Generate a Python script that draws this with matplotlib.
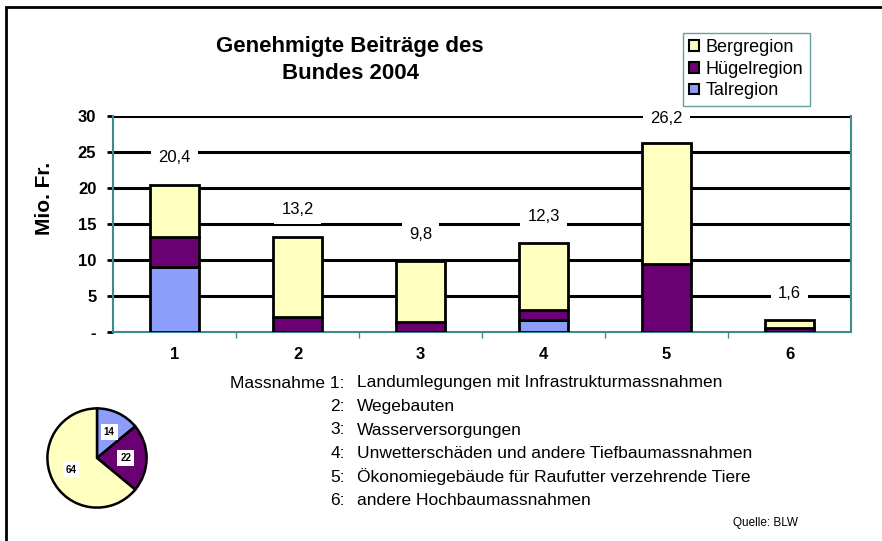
import numpy as np
import matplotlib
matplotlib.use("Agg")
import matplotlib.pyplot as plt
from matplotlib.patches import Rectangle, Patch

plt.rcParams["font.family"] = ["Liberation Sans", "DejaVu Sans"]

# data (Mio. Fr.)
massnahmen = ["1", "2", "3", "4", "5", "6"]
tal = [9.0, 0.0, 0.0, 1.6, 0.0, 0.0]
huegel = [4.2, 2.1, 1.4, 1.5, 9.5, 0.6]
berg = [7.2, 11.1, 8.4, 9.2, 16.7, 1.0]
totals = ["20,4", "13,2", "9,8", "12,3", "26,2", "1,6"]
pie_vals = [14, 22, 64]  # Tal, Huegel, Berg in %
beschreibung = ["Landumlegungen mit Infrastrukturmassnahmen", "Wegebauten",
                "Wasserversorgungen", "Unwetterschäden und andere Tiefbaumassnahmen",
                "Ökonomiegebäude für Raufutter verzehrende Tiere",
                "andere Hochbaumassnahmen"]

C_TAL, C_HUE, C_BERG = "#8C9EFA", "#6A0072", "#FFFFC0"
TEAL = "#3E8A8C"
W, H = 882, 541

fig = plt.figure(figsize=(W / 100, H / 100), dpi=100)
fig.patches.append(Rectangle((6 / W, -0.1), 1.2, (H - 7) / H + 0.1, transform=fig.transFigure,
                             fill=False, ec="black", lw=2))

ax = fig.add_axes([113 / W, (H - 332) / H, (851 - 113) / W, (332 - 116) / H])
x = np.arange(len(massnahmen))
tal_a, hue_a, berg_a = map(np.array, (tal, huegel, berg))
ax.bar(x, tal_a, 0.4, color=C_TAL, ec="black", lw=2, zorder=3)
ax.bar(x, hue_a, 0.4, bottom=tal_a, color=C_HUE, ec="black", lw=2, zorder=3)
ax.bar(x, berg_a, 0.4, bottom=tal_a + hue_a, color=C_BERG, ec="black", lw=2, zorder=3)
tops = tal_a + hue_a + berg_a
for xi, t, lab in zip(x, tops, totals):
    ax.text(xi, min(t + 3.8, 29.7), lab, ha="center", va="center", fontsize=12, zorder=4,
            bbox=dict(fc="white", ec="none", pad=5))

ax.set_xlim(-0.5, 5.5)
ax.set_ylim(0, 30)
ax.set_yticks([0, 5, 10, 15, 20, 25, 30])
ax.set_yticklabels(["-", "5", "10", "15", "20", "25", "30"], fontweight="bold", fontsize=12)
for y in range(5, 31, 5):
    ax.axhline(y, color="black", lw=2.2, zorder=1)
ax.tick_params(axis="y", length=4, width=2, color="black", pad=8)
ax.set_xticks(x)
ax.set_xticklabels(massnahmen, fontweight="bold", fontsize=12)
ax.set_xticks(np.arange(0.5, 5.5, 1), minor=True)
ax.tick_params(axis="x", which="major", length=0, pad=11)
ax.tick_params(axis="x", which="minor", length=4, width=1, color=TEAL)
for s in ["left", "right", "bottom"]:
    ax.spines[s].set_color(TEAL)
    ax.spines[s].set_linewidth(1.5)
ax.spines["top"].set_visible(False)
fig.text(45 / W, 1 - 198 / H, "Mio. Fr.", rotation=90, ha="center", va="center",
         fontsize=15, fontweight="bold")

fig.text(350 / W, 1 - 60 / H, "Genehmigte Beiträge des\nBundes 2004", ha="center", va="center",
         fontsize=16, fontweight="bold", linespacing=1.4)

handles = [Patch(fc=C_BERG, ec="black", lw=1.5, label="Bergregion"),
           Patch(fc=C_HUE, ec="black", lw=1.5, label="Hügelregion"),
           Patch(fc=C_TAL, ec="black", lw=1.5, label="Talregion")]
leg = fig.legend(handles=handles, loc="upper left", bbox_to_anchor=(683 / W, 1 - 33 / H),
                 fontsize=13, handlelength=0.55, handleheight=0.55, handletextpad=0.35,
                 labelspacing=0.25, borderpad=0.35, borderaxespad=0, fancybox=False,
                 frameon=True)
leg.get_frame().set_edgecolor(TEAL)
leg.get_frame().set_linewidth(1)

# legend for the measures
y0 = 383
fig.text(345 / W, 1 - y0 / H, "Massnahme 1:", ha="right", va="center", fontsize=12.5)
for i, txt in enumerate(beschreibung):
    yy = 1 - (y0 + i * 23.5) / H
    if i > 0:
        fig.text(345 / W, yy, f"{i + 1}:", ha="right", va="center", fontsize=12.5)
    fig.text(357 / W, yy, txt, ha="left", va="center", fontsize=12.5)

fig.text(733 / W, 1 - 523 / H, "Quelle: BLW", ha="left", va="center", fontsize=8.5)

pax = fig.add_axes([(97 - 62) / W, (H - 458 - 62) / H, 124 / W, 124 / H])
wedges, _, autot = pax.pie(pie_vals, colors=[C_TAL, C_HUE, C_BERG], startangle=90,
                           counterclock=False, autopct=lambda p: f"{p:.0f}", pctdistance=0.58,
                           wedgeprops=dict(ec="black", lw=1.8))
for t in autot:
    t.set_fontsize(7)
    t.set_fontweight("bold")
    t.set_bbox(dict(fc="white", ec="none", pad=2))
pax.set_aspect("equal")

fig.savefig("out.png", dpi=100)
